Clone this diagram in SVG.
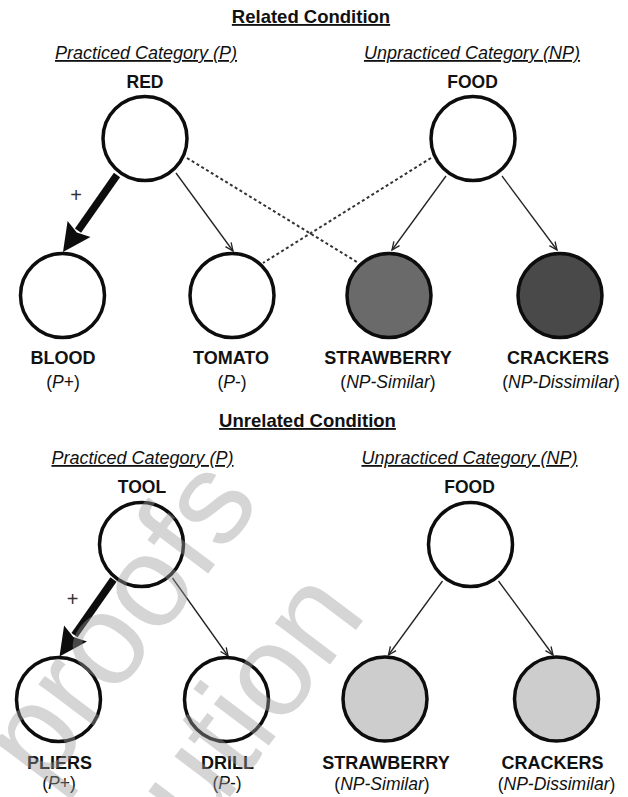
<svg xmlns="http://www.w3.org/2000/svg" width="628" height="797" viewBox="0 0 628 797">
<style>
text{font-family:"Liberation Sans",Arial,Helvetica,sans-serif;fill:#111}
.title{font-size:18.5px;font-weight:bold;text-anchor:middle;text-decoration:underline}
.cat{font-size:18px;font-style:italic;text-anchor:middle;text-decoration:underline}
.head{font-size:17.5px;font-weight:bold;text-anchor:middle}
.lab{font-size:18px;font-weight:bold;text-anchor:middle}
.sub{font-size:17.5px;text-anchor:middle}
.it{font-style:italic}
.node{stroke:#0d0d0d;stroke-width:3.5}
.white{fill:#fff}
.dark1{fill:#6a6a6a}
.dark2{fill:#494949}
.light{fill:#cdcdcd}
.thin{stroke:#222;stroke-width:1.3;fill:none;marker-end:url(#ah)}
.dash{stroke:#333;stroke-width:2;stroke-dasharray:3 2.6;fill:none}
.thick{stroke:#0d0d0d;stroke-width:7.5;fill:none}
.thickhead{fill:#0d0d0d}
.plus{font-size:20px;text-anchor:middle;fill:#333}
.wm{font-size:130px;fill:#9a9a9a;fill-opacity:0.42}
</style>
<defs>
<marker id="ah" markerUnits="userSpaceOnUse" markerWidth="12" markerHeight="10" refX="10" refY="5" orient="auto" viewBox="0 0 12 10">
<path d="M2,1.5 L10,5 L2,8.5" fill="none" stroke="#222" stroke-width="1.3"/>
</marker>
</defs>
<rect width="628" height="797" fill="#fff"/>

<!-- Related condition -->
<text class="title" x="311" y="23">Related Condition</text>
<text class="cat" x="146" y="59">Practiced Category (P)</text>
<text class="cat" x="472" y="59">Unpracticed Category (NP)</text>

<g id="connectors-related">
<line class="thick" x1="117" y1="175" x2="78" y2="230.7"/>
<polygon class="thickhead" points="63,252 90.5,237.1 76.8,232.4 67.6,221.1"/>
<text class="plus" x="76" y="202">+</text>
<line class="thin" x1="176" y1="173" x2="233" y2="251"/>
<line class="thin" x1="446" y1="176" x2="392" y2="250"/>
<line class="thin" x1="502" y1="176" x2="557" y2="250"/>
<line class="dash" x1="187" y1="158" x2="357" y2="262"/>
<line class="dash" x1="431" y1="158" x2="263" y2="263"/>
</g>

<g id="r-red"><text class="head" x="145" y="88">RED</text><circle class="node white" cx="145" cy="138.5" r="42"/></g>
<g id="r-food"><text class="head" x="472.5" y="88">FOOD</text><circle class="node white" cx="473" cy="138.5" r="42"/></g>
<g id="r-blood"><circle class="node white" cx="62.5" cy="295.5" r="42"/><text class="lab" x="63" y="364">BLOOD</text><text class="sub" x="63" y="388">(<tspan class="it">P</tspan>+)</text></g>
<g id="r-tomato"><circle class="node white" cx="232" cy="295.5" r="42"/><text class="lab" x="231" y="364">TOMATO</text><text class="sub" x="232" y="388">(<tspan class="it">P</tspan>-)</text></g>
<g id="r-strawberry"><circle class="node dark1" cx="389" cy="295.5" r="42"/><text class="lab" x="388" y="364">STRAWBERRY</text><text class="sub" x="388" y="388">(<tspan class="it">NP-Similar</tspan>)</text></g>
<g id="r-crackers"><circle class="node dark2" cx="560" cy="295.5" r="42"/><text class="lab" x="558" y="364">CRACKERS</text><text class="sub" x="561" y="388">(<tspan class="it">NP-Dissimilar</tspan>)</text></g>

<!-- Unrelated condition -->
<text class="title" x="307.5" y="427">Unrelated Condition</text>
<text class="cat" x="142.5" y="464">Practiced Category (P)</text>
<text class="cat" x="469.5" y="464">Unpracticed Category (NP)</text>

<g id="connectors-unrelated">
<line class="thick" x1="113.5" y1="579.5" x2="74.5" y2="635.2"/>
<polygon class="thickhead" points="59.5,656.5 87,641.6 73.3,636.9 64.1,625.6"/>
<text class="plus" x="72.5" y="606">+</text>
<line class="thin" x1="172.5" y1="578" x2="228" y2="656"/>
<line class="thin" x1="442.5" y1="581" x2="388.5" y2="655"/>
<line class="thin" x1="498.5" y1="581" x2="553" y2="655"/>
</g>

<g id="u-tool"><text class="head" x="142" y="493">TOOL</text><circle class="node white" cx="141.5" cy="544.5" r="42"/></g>
<g id="u-food"><text class="head" x="469.5" y="493">FOOD</text><circle class="node white" cx="470.5" cy="544.5" r="42"/></g>
<g id="u-pliers"><circle class="node white" cx="58.5" cy="699.5" r="42"/><text class="lab" x="59.5" y="769">PLIERS</text><text class="sub" x="59" y="789">(<tspan class="it">P</tspan>+)</text></g>
<g id="u-drill"><circle class="node white" cx="226.5" cy="699.5" r="42"/><text class="lab" x="227.5" y="769">DRILL</text><text class="sub" x="227" y="789">(<tspan class="it">P</tspan>-)</text></g>
<g id="u-strawberry"><circle class="node light" cx="385" cy="699" r="42"/><text class="lab" x="386" y="769">STRAWBERRY</text><text class="sub" x="382" y="790">(<tspan class="it">NP-Similar</tspan>)</text></g>
<g id="u-crackers"><circle class="node light" cx="556.5" cy="699" r="42"/><text class="lab" x="552.5" y="769">CRACKERS</text><text class="sub" x="556.5" y="790">(<tspan class="it">NP-Dissimilar</tspan>)</text></g>

<g id="watermark">
<text class="wm" text-anchor="end" transform="translate(262,502) rotate(-53)">d proofs</text>
<text class="wm" text-anchor="end" transform="translate(368,614) rotate(-53)">ribution</text>
</g>
</svg>
